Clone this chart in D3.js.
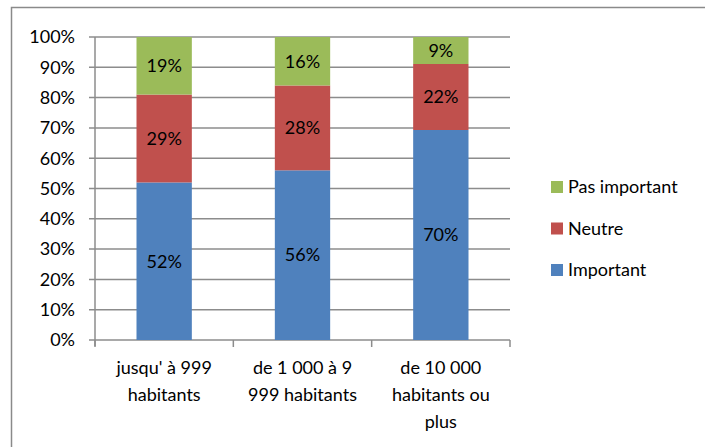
<!DOCTYPE html>
<html>
<head>
<meta charset="utf-8">
<script src="https://cdn.jsdelivr.net/npm/d3@7"></script>
<style>
  body { margin: 0; background: #fff; }
  svg { display: block; font-family: Lato, 'Open Sans', sans-serif; }
</style>
</head>
<body>
<div class="Canvas"></div>
<script>
const categories = [
  ['jusqu\' à 999', 'habitants'],
  ['de 1 000 à 9', '999 habitants'],
  ['de 10 000', 'habitants ou', 'plus'],
];
const series = ['Important', 'Neutre', 'Pas important'];
const important = [52, 56, 70];
const neutre = [29, 28, 22];
const pasImportant = [19, 16, 9];
const tickValues = [0, 0.1, 0.2, 0.3, 0.4, 0.5, 0.6, 0.7, 0.8, 0.9, 1];
const colors = ['#4F81BD', '#C0504D', '#9BBB59'];

const width = 705;
const height = 447;
const plot = { left: 95, right: 510, top: 37, bottom: 340 };
const fontSize = 18;
const gridColor = '#8c8c8c';

const rows = categories.map((c, i) => ({
  idx: i,
  Important: important[i],
  Neutre: neutre[i],
  'Pas important': pasImportant[i],
}));

const stacked = d3.stack().keys(series).offset(d3.stackOffsetExpand)(rows);

const svg = d3.select('.Canvas').append('svg').attr('width', width).attr('height', height);

// outer frame
svg.append('path')
  .attr('d', `M11.5,${height + 5} V7.5 H${width + 5}`)
  .attr('fill', 'none')
  .attr('stroke', '#8a8a8a')
  .attr('stroke-width', 1.5);

const x = d3.scaleBand().domain(d3.range(categories.length)).range([plot.left, plot.right]).paddingInner(0.6).paddingOuter(0.3);
const xTicks = d3.scaleBand().domain(d3.range(categories.length)).range([plot.left, plot.right]);
const y = d3.scaleLinear().domain([0, 1]).range([plot.bottom, plot.top]);

const g = svg.append('g');

// gridlines
g.selectAll('line.grid')
  .data(tickValues)
  .enter()
  .append('line')
  .attr('class', 'grid')
  .attr('x1', plot.left - 6)
  .attr('x2', plot.right)
  .attr('y1', (d) => y(d))
  .attr('y2', (d) => y(d))
  .attr('stroke', gridColor)
  .attr('stroke-width', 1.5);

// y labels
g.selectAll('text.ytick')
  .data(tickValues)
  .enter()
  .append('text')
  .attr('class', 'ytick')
  .attr('x', 75)
  .attr('y', (d) => y(d))
  .attr('dy', '0.35em')
  .attr('text-anchor', 'end')
  .attr('font-size', fontSize)
  .attr('fill', '#000')
  .text((d) => d3.format('.0%')(d));

// bars
const layers = g.selectAll('g.layer')
  .data(stacked)
  .enter()
  .append('g')
  .attr('class', 'layer')
  .attr('fill', (d, i) => colors[i]);

layers.selectAll('rect')
  .data((d) => d.map((p) => ({ p: p, key: d.key })))
  .enter()
  .append('rect')
  .attr('x', (d) => x(d.p.data.idx))
  .attr('width', x.bandwidth())
  .attr('y', (d) => y(d.p[1]))
  .attr('height', (d) => y(d.p[0]) - y(d.p[1]));

layers.selectAll('text')
  .data((d) => d.map((p) => ({ p: p, key: d.key })))
  .enter()
  .append('text')
  .attr('x', (d) => x(d.p.data.idx) + x.bandwidth() / 2)
  .attr('y', (d) => (y(d.p[0]) + y(d.p[1])) / 2)
  .attr('dy', '0.35em')
  .attr('text-anchor', 'middle')
  .attr('font-size', fontSize)
  .attr('fill', '#000')
  .text((d) => d.p.data[d.key] + '%');

// y axis + x axis lines
g.append('line')
  .attr('x1', plot.left).attr('x2', plot.left)
  .attr('y1', plot.top).attr('y2', plot.bottom + 6)
  .attr('stroke', gridColor).attr('stroke-width', 1.5);

const xTickPos = d3.range(categories.length + 1).map((i) => (i < categories.length ? xTicks(i) : plot.right));
g.selectAll('line.xtick')
  .data(xTickPos)
  .enter()
  .append('line')
  .attr('x1', (d) => d).attr('x2', (d) => d)
  .attr('y1', plot.bottom).attr('y2', plot.bottom + 7)
  .attr('stroke', gridColor).attr('stroke-width', 1.5);

// category labels
const catText = g.selectAll('text.cat')
  .data(categories)
  .enter()
  .append('text')
  .attr('class', 'cat')
  .attr('text-anchor', 'middle')
  .attr('font-size', fontSize)
  .attr('fill', '#000');
catText.selectAll('tspan')
  .data((d, i) => d.map((line, j) => ({ line: line, i: i, j: j })))
  .enter()
  .append('tspan')
  .attr('x', (d) => xTicks(d.i) + xTicks.bandwidth() / 2)
  .attr('y', (d) => 368 + d.j * 27)
  .attr('dy', '0.35em')
  .text((d) => d.line);

// legend
const legendItems = series.slice().reverse();
const legend = svg.selectAll('g.legend')
  .data(legendItems)
  .enter()
  .append('g')
  .attr('class', 'legend')
  .attr('transform', (d, i) => `translate(551, ${187 + i * 41.5})`);
legend.append('rect')
  .attr('x', 0).attr('y', -6)
  .attr('width', 12).attr('height', 12)
  .attr('fill', (d) => colors[series.indexOf(d)]);
legend.append('text')
  .attr('x', 17)
  .attr('y', 0)
  .attr('dy', '0.35em')
  .attr('font-size', fontSize)
  .attr('fill', '#000')
  .text((d) => d);
</script>
</body>
</html>
